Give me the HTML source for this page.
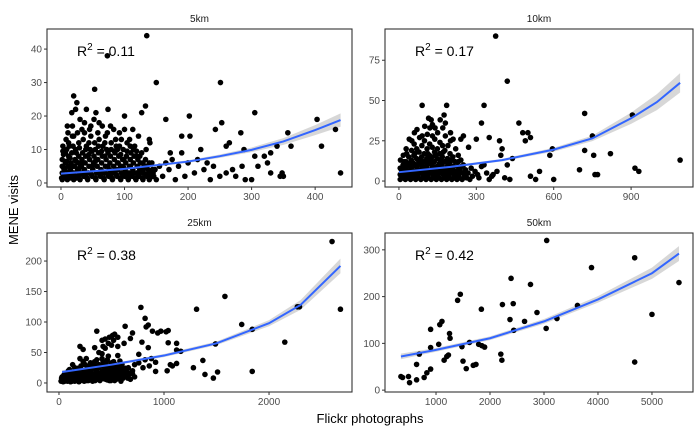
<!DOCTYPE html>
<html><head><meta charset="utf-8"><style>
html,body{margin:0;padding:0;background:#fff;}
svg{display:block;font-family:"Liberation Sans",sans-serif;}
</style></head><body>
<svg id="chart" width="700" height="432" viewBox="0 0 700 432" xmlns="http://www.w3.org/2000/svg">
<rect width="700" height="432" fill="#fff"/>
<text x="0" y="0" transform="translate(18,210) rotate(-90)" text-anchor="middle" font-size="13" fill="#000">MENE visits</text>
<text x="370" y="423" text-anchor="middle" font-size="13" fill="#000">Flickr photographs</text>
</svg>
<script>
// ---- data ----
const panelTitles = ["5km","10km","25km","50km"];
const r2Values = ["0.11","0.17","0.38","0.42"];
const xTicks1 = [0,100,200,300,400];
const yTicks1 = [0,10,20,30,40];
const xTicks2 = [0,300,600,900];
const yTicks2 = [0,25,50,75];
const xTicks3 = [0,1000,2000];
const yTicks3 = [0,50,100,150,200];
const xTicks4 = [1000,2000,3000,4000,5000];
const yTicks4 = [0,100,200,300];

const points5km = [[135,44],[73,38],[150,30],[251,30],[53,28],[20,26],[25,24],[23,22],[74,22],[40,22],[17,21],[55,21],[127,21],[100,20],[202,20],[305,21],[133,23],[165,19],[30,19],[60,18],[253,18],[403,19],[10,17],[47,17],[78,17],[18,17],[113,16],[100,16],[243,16],[357,15],[432,16],[283,15],[37,15],[92,15],[122,14],[190,14],[203,14],[139,13],[140,12],[362,11],[410,11],[265,12],[260,11],[172,9],[190,9],[220,10],[288,10],[340,11],[305,8],[320,8],[330,9],[215,7],[230,6],[240,5],[270,4],[285,5],[310,5],[325,6],[345,2],[348,3],[440,3],[300,1],[180,1],[195,2],[210,3],[225,4],[235,1],[250,2],[260,3],[275,2],[290,1],[330,3],[160,2],[170,4],[185,5],[200,6],[175,7],[155,5],[145,3],[165,6],[350,2],
[2,1],[2,3],[2,5],[2,7],[3,11],[5,2],[6,4],[7,6],[7,9],[8,13],[10,1],[11,3],[11,5],[12,8],[13,11],[15,2],[15,4],[16,6],[17,9],[18,14],[20,1],[20,3],[21,5],[22,7],[23,10],[25,2],[26,4],[27,6],[28,8],[28,12],[30,1],[31,3],[32,5],[33,7],[34,9],[35,13],[36,2],[37,4],[38,6],[39,8],[40,11],[42,1],[43,3],[44,5],[45,7],[46,10],[47,14],[49,2],[50,4],[51,6],[52,8],[53,12],[55,1],[56,3],[57,5],[58,7],[59,9],[60,13],[62,2],[63,4],[64,6],[65,8],[66,11],[68,1],[69,3],[70,5],[71,7],[72,10],[73,15],[75,2],[76,4],[77,6],[78,8],[79,12],[81,1],[82,3],[83,5],[84,7],[85,9],[86,13],[88,2],[89,4],[90,6],[91,8],[92,11],[94,1],[95,3],[96,5],[97,7],[98,10],[100,2],[101,4],[102,6],[103,8],[104,12],[106,1],[107,3],[108,5],[109,7],[110,9],[112,2],[113,4],[114,6],[115,8],[116,11],[118,1],[119,3],[120,5],[121,7],[123,2],[124,4],[125,6],[127,9],[129,1],[130,3],[131,5],[133,7],[135,2],[137,4],[139,1],[141,3],[143,6],[146,2],[148,4],[150,1],[1,1.5],[4,2.5],[9,2],[14,1.5],[19,2.5],[24,1.5],[29,2.5],[41,1.5],[48,2.5],[54,1.5],[61,2.5],[67,1.5],[74,2.5],[80,1.5],[87,2.5],[93,1.5],[99,2.5],[105,1.5],[111,2.5],[117,1.5],[122,2.5],[128,1.5],[134,2.5],[140,1.5],
[4,4.5],[4,8.5],[9,6.5],[9,10],[14,3.5],[14,7.5],[19,5],[19,11],[24,6.5],[24,9],[29,4.5],[29,10.5],[34,3],[34,6],[39,10],[39,3],[44,8.5],[44,12],[49,5],[49,9.5],[54,6.5],[54,10],[59,3],[59,11],[64,9.5],[64,3],[69,8],[69,12],[74,5],[74,9],[79,3],[79,10],[84,9.5],[84,3.5],[89,6],[89,10],[94,5],[94,8.5],[99,4.5],[99,7],[104,9.5],[104,3],[109,5],[109,11],[114,3],[114,10],[119,8],[119,9.5],[124,8],[124,3],[129,6],[129,4],[134,5],[134,10],[139,6],[139,3],[144,4],[144,2],[3,9.5],[12,12],[26,15],[33,16],[45,16],[58,15],[83,16],[95,13],[70,14],[108,13],[20,14],[11,15],[65,17],[87,11],[37,18],[52,19]];

const points10km = [[375,90],[420,62],[90,47],[185,47],[330,47],[720,42],[905,41],[115,39],[125,38],[175,41],[320,36],[465,36],[480,30],[500,30],[510,27],[490,25],[390,25],[350,27],[300,26],[400,20],[395,16],[440,14],[585,16],[595,20],[720,19],[755,16],[820,17],[750,28],[1090,13],[915,8],[930,6],[700,7],[510,3],[545,6],[530,1],[600,1],[760,4],[770,4],[420,10],[430,1],[350,1],[365,4],[380,6],[410,2],[330,10],[305,4],[280,8],[260,3],[270,21],[240,26],[230,12],[250,28],[255,5],
[5,1],[5,4],[5,8],[6,13],[15,2],[15,6],[16,10],[17,16],[25,1],[25,4],[26,8],[27,12],[28,20],[35,2],[36,6],[37,10],[38,15],[40,26],[45,1],[46,4],[47,8],[48,13],[49,19],[55,2],[56,6],[57,11],[58,16],[59,23],[65,1],[66,4],[67,9],[68,14],[69,20],[70,32],[75,2],[76,7],[77,12],[78,18],[80,27],[85,1],[86,5],[87,10],[88,15],[89,22],[95,2],[96,7],[97,12],[98,17],[99,25],[105,1],[106,4],[107,9],[108,14],[109,20],[110,29],[115,2],[116,6],[117,11],[118,16],[119,23],[120,33],[125,1],[126,5],[127,10],[128,15],[129,21],[130,28],[135,2],[136,7],[137,12],[138,18],[139,26],[140,33],[145,1],[146,4],[147,9],[148,14],[149,20],[155,2],[156,6],[157,11],[158,17],[159,24],[165,1],[166,5],[167,10],[168,15],[169,22],[170,33],[175,2],[176,7],[177,12],[178,19],[180,28],[185,1],[186,4],[187,9],[188,14],[190,22],[195,2],[196,6],[197,11],[198,17],[200,25],[205,1],[206,5],[207,9],[209,15],[215,2],[216,6],[218,12],[220,20],[225,1],[226,4],[228,9],[230,16],[235,2],[237,7],[240,13],[245,1],[247,5],[250,10],[255,3],[258,7],[262,2],[268,5],[275,1],[285,3],[295,6],[310,2],[320,9],[340,5],[360,3],
[10,3],[10,7],[20,5],[20,12],[30,3],[30,9],[42,5],[42,11],[52,3],[52,9],[62,6],[62,17],[72,4],[72,10],[82,7],[82,13],[92,4],[92,9],[102,6],[102,12],[112,4],[112,17],[122,7],[122,13],[132,4],[132,9],[142,6],[142,16],[152,4],[152,9],[162,7],[162,13],[172,4],[172,18],[182,7],[182,12],[192,4],[192,9],[202,7],[202,13],[212,4],[212,9],[222,6],[232,4],[242,9],[252,5],[60,30],[100,34],[150,30],[200,30],[90,28],[50,25],[30,17],[160,38],[210,26],[130,35],[180,36]];

const points25km = [[2600,232],[1580,142],[2680,121],[1310,121],[2270,125],[2290,125],[780,124],[1740,96],[1840,88],[820,106],[830,92],[850,95],[630,93],[700,82],[360,85],[890,85],[940,82],[970,85],[1020,84],[1040,86],[410,70],[440,72],[480,75],[510,78],[530,80],[560,75],[520,70],[680,73],[470,65],[620,65],[420,60],[500,62],[560,60],[200,60],[230,55],[340,58],[440,57],[790,67],[850,58],[1120,65],[2150,67],[1490,64],[1040,66],[380,50],[410,48],[470,44],[560,45],[760,47],[920,34],[1120,54],[1160,52],[1060,30],[1120,32],[1080,28],[1030,20],[920,19],[1280,25],[1370,37],[1390,14],[1470,8],[1510,18],[1840,19],[200,40],[260,40],[300,30],[320,25],[340,35],[380,30],[420,35],[460,38],[500,33],[540,30],[580,36],[600,25],[640,20],[660,12],[700,15],[720,30],[760,33],[800,25],[820,38],[860,28],[880,40],
[20,3],[30,5],[40,2],[50,8],[60,4],[70,11],[80,3],[90,6],[100,14],[110,2],[120,9],[130,5],[140,18],[150,3],[160,12],[170,7],[180,24],[190,2],[200,15],[210,5],[220,10],[230,20],[240,3],[250,8],[260,13],[270,27],[280,4],[290,17],[300,9],[310,22],[320,3],[330,12],[340,28],[350,6],[360,18],[370,10],[380,25],[390,4],[400,14],[410,30],[420,8],[430,20],[440,12],[450,33],[460,5],[470,16],[480,26],[490,9],[500,20],[510,13],[520,35],[530,4],[540,18],[550,28],[560,10],[570,22],[580,15],[590,3],[600,30],[610,8],[620,18],[640,12],[660,25],[680,6],[700,20],[720,10],[100,22],[150,25],[250,30],[130,30],[60,15],[90,20],[230,35],[120,4],[170,16],[280,19],[330,5],[430,7],[480,4],[530,24],[75,8],[45,12],[35,9],[210,28],[300,33],[360,38],[410,40],[260,6],[310,14],
[25,8],[40,6],[55,3],[65,10],[85,5],[95,12],[105,7],[115,16],[125,3],[135,10],[145,6],[155,14],[165,4],[175,11],[185,8],[195,18],[205,4],[215,12],[225,6],[235,15],[245,9],[255,20],[265,4],[275,10],[285,14],[295,5],[305,18],[315,8],[325,25],[335,15],[345,4],[355,22],[365,12],[375,6],[385,16],[395,28],[405,8],[415,20],[425,14],[435,26],[445,6],[455,18],[465,10],[475,22],[485,14],[495,4],[505,26],[515,8],[525,16],[535,12],[545,6],[555,20],[565,14],[575,30],[585,8],[595,18],[615,14],[635,24],[655,8],[675,16],[30,10],[70,6],[50,14],[110,10],[160,20],[80,16]];

const points50km = [[350,29],[380,27],[490,29],[510,16],[640,55],[640,22],[690,77],[780,27],[830,37],[900,45],[900,130],[900,91],[1050,98],[1070,140],[1110,147],[1150,64],[1200,72],[1230,75],[1250,121],[1260,111],[1400,192],[1450,205],[1480,93],[1500,62],[1560,46],[1620,102],[1690,53],[1740,55],[1790,98],[1840,173],[1850,95],[1900,92],[2200,77],[2220,64],[2230,183],[2370,151],[2390,239],[2430,185],[2440,128],[2640,147],[2750,226],[2870,166],[3040,132],[3050,320],[3240,153],[3620,181],[3880,262],[4680,283],[4680,60],[5000,162],[5500,230]];

// fitted trend: [x, fit, lower, upper]
const fit5km = [[0,2.8,2.4,3.2],[100,4.2,3.9,4.5],[200,6.4,6.0,6.8],[250,8.0,7.5,8.5],[300,9.9,9.2,10.6],[350,12.4,11.4,13.4],[400,15.8,14.3,17.3],[440,18.8,16.8,20.8]];
const fit10km = [[0,5.5,4.6,6.4],[200,8.8,8.0,9.6],[400,13,12.2,13.8],[600,19.5,18.3,20.7],[750,26.5,24.8,28.2],[900,39,35.5,42.5],[1000,49,44,54],[1090,61,55,67]];
const fit25km = [[30,18,15,21],[500,30,28,32],[1000,45,42.5,47.5],[1500,65,62,68],[2000,98,93,103],[2300,128,120,136],[2680,192,180,204]];
const fit50km = [[350,72,66,78],[1000,86,82,90],[2000,111,107,115],[3000,147,142,152],[4000,194,187,201],[5000,250,238,262],[5500,292,276,308]];

// ---- layout ----
const panels = [
  {name:"5km", pts:points5km, fit:fit5km, xt:xTicks1, yt:yTicks1, box:[47,29,352,187], xd:[-22,458], yd:[-1.2,46.0]},
  {name:"10km", pts:points10km, fit:fit10km, xt:xTicks2, yt:yTicks2, box:[385,29,693,187], xd:[-54,1140], yd:[-3.7,94.4]},
  {name:"25km", pts:points25km, fit:fit25km, xt:xTicks3, yt:yTicks3, box:[47,233,352,392], xd:[-114,2790], yd:[-14.8,246]},
  {name:"50km", pts:points50km, fit:fit50km, xt:xTicks4, yt:yTicks4, box:[385,233,693,392], xd:[55,5760], yd:[-4,336]}
];
const svg = document.getElementById('chart');
const NS = "http://www.w3.org/2000/svg";
function mk(tag, attrs){const e=document.createElementNS(NS,tag);for(const k in attrs)e.setAttribute(k,attrs[k]);return e;}

panels.forEach((p,i)=>{
  const [x0,y0,x1,y1]=p.box;
  const sx=v=>x0+(v-p.xd[0])/(p.xd[1]-p.xd[0])*(x1-x0);
  const sy=v=>y1-(v-p.yd[0])/(p.yd[1]-p.yd[0])*(y1-y0);
  const g=mk('g',{});
  
  
  svg.appendChild(g);
  const title=mk('text',{x:(x0+x1)/2,y:y0-7,'text-anchor':'middle','font-size':'10',fill:'#1a1a1a'});
  
  
  title.textContent=panelTitles[i];
  g.appendChild(title);
  let up=p.fit.map(d=>sx(d[0])+','+sy(d[3])).join(' ');
  let lo=p.fit.slice().reverse().map(d=>sx(d[0])+','+sy(d[2])).join(' ');
  const rib=mk('polygon',{points:up+' '+lo,fill:'#bdbdbd','fill-opacity':'0.6'});
  
  
  g.appendChild(rib);
  p.pts.forEach(d=>{
    const c=mk('circle',{cx:sx(d[0]),cy:sy(d[1]),r:2.8,fill:'#000'});
    
    
    g.appendChild(c);
  });
  const line=mk('polyline',{points:p.fit.map(d=>sx(d[0])+','+sy(d[1])).join(' '),fill:'none',stroke:'#3366FF','stroke-width':'2'});
  
  
  g.appendChild(line);
  const frame=mk('rect',{x:x0,y:y0,width:x1-x0,height:y1-y0,fill:'none',stroke:'#333','stroke-width':'1.1'});
  
  
  g.appendChild(frame);
  p.xt.forEach(t=>{
    const tk=mk('line',{x1:sx(t),x2:sx(t),y1:y1,y2:y1+3,stroke:'#333'});
    
    
    g.appendChild(tk);
    const tl=mk('text',{x:sx(t),y:y1+13,'text-anchor':'middle','font-size':'10',fill:'#4d4d4d'});
    
    
    tl.textContent=t;
    g.appendChild(tl);
  });
  p.yt.forEach(t=>{
    const tk=mk('line',{x1:x0-3,x2:x0,y1:sy(t),y2:sy(t),stroke:'#333'});
    
    
    g.appendChild(tk);
    const tl=mk('text',{x:x0-5,y:sy(t)+3.5,'text-anchor':'end','font-size':'10',fill:'#4d4d4d'});
    
    
    tl.textContent=t;
    g.appendChild(tl);
  });
  const r2=mk('text',{x:x0+30,y:y0+27,'font-size':'14',fill:'#000'});
  
  
  r2.innerHTML='R<tspan dy="-6" font-size="10">2</tspan><tspan dy="6"> = '+r2Values[i]+'</tspan>';
  g.appendChild(r2);
});
</script>
</body></html>
